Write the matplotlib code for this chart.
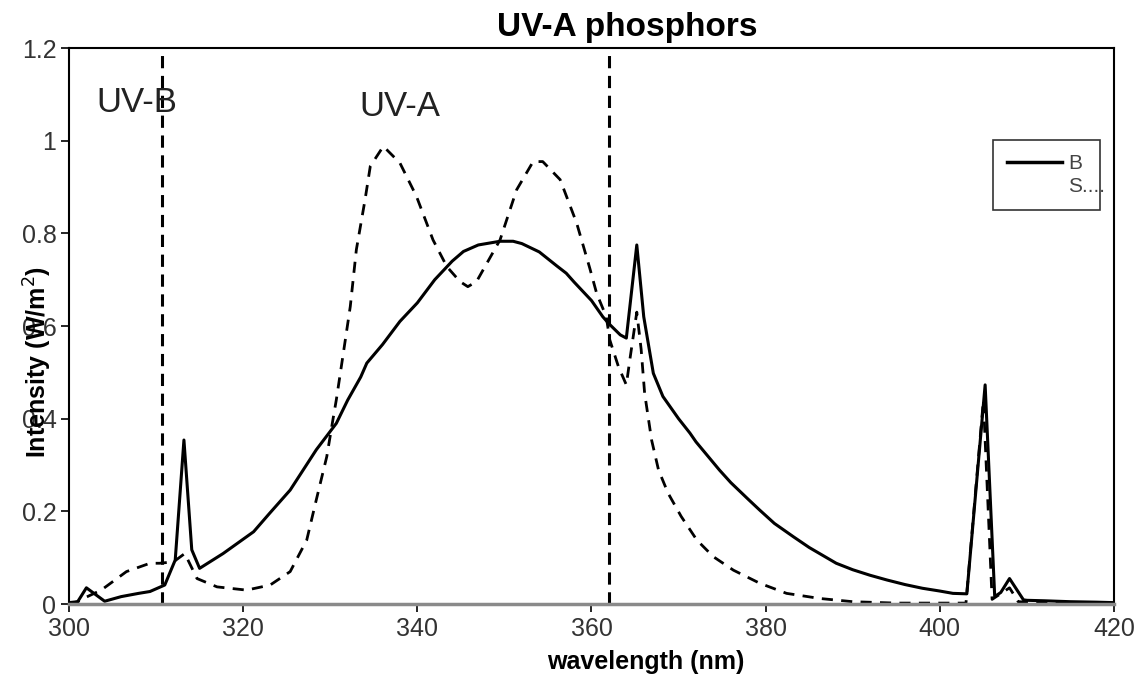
import matplotlib.pyplot as plt
from matplotlib.lines import Line2D

plt.rcParams['font.family'] = ['Liberation Sans', 'DejaVu Sans']

# phosphor B (solid)
wl_b = [300, 301, 302, 304.1, 306, 308, 309.3, 311, 312.2, 313.2, 314.1, 315,
        317.7, 321.2, 323, 325.4, 328.4, 330.7, 332, 333.5, 334.2, 336, 338,
        340, 342, 344, 345.3, 347, 349.5, 351, 352, 354, 356, 357.1, 358,
        360, 361.3, 362, 363.3, 364, 365.2, 366, 367.1, 368.2, 370, 371.3,
        372, 374.7, 376, 378, 379.3, 381, 383.2, 385, 388.1, 390, 392,
        393.9, 396, 398, 400, 401.5, 403.1, 405.2, 406.3, 407, 408, 409.6,
        410, 412, 415, 418, 420]
int_b = [0.003, 0.005, 0.035, 0.006, 0.016, 0.023, 0.027, 0.041, 0.095, 0.354,
         0.117, 0.077, 0.109, 0.156, 0.195, 0.246, 0.333, 0.39, 0.44, 0.49,
         0.52, 0.56, 0.61, 0.65, 0.70, 0.74, 0.761, 0.775, 0.783, 0.783,
         0.778, 0.76, 0.73, 0.714, 0.695, 0.655, 0.62, 0.605, 0.581, 0.574,
         0.775, 0.62, 0.498, 0.448, 0.40, 0.369, 0.35, 0.289, 0.262, 0.226,
         0.203, 0.174, 0.145, 0.122, 0.088, 0.074, 0.062, 0.052, 0.042,
         0.034, 0.028, 0.023, 0.022, 0.473, 0.016, 0.025, 0.055, 0.009,
         0.008, 0.007, 0.005, 0.004, 0.003]

# phosphor S (dashed)
wl_s = [300, 301, 302, 303.7, 306.6, 309.3, 310.4, 312, 313.3, 314.7, 317,
        320.4, 323.1, 325.4, 327.3, 328.4, 329.6, 330.3, 330.7, 331.5,
        332.3, 333, 334, 334.6, 336.1, 338, 339.9, 341.8, 343.4, 344.9,
        345.8, 346.8, 349.5, 351.4, 353.3, 354.4, 356.4, 358.3, 359.8,
        360.6, 361.7, 362.1, 363.1, 364, 364.4, 365.2, 365.7, 366.1, 366.9,
        367.7, 368.8, 370.3, 372.1, 374, 376.3, 379.3, 382.4, 386.2, 390,
        395, 400, 403, 405, 406, 408, 409, 412, 420]
int_s = [0.0, 0.005, 0.015, 0.03, 0.07, 0.088, 0.088, 0.091, 0.109, 0.055,
         0.037, 0.03, 0.041, 0.07, 0.138, 0.225, 0.318, 0.397, 0.441, 0.541,
         0.642, 0.765, 0.873, 0.945, 0.988, 0.952, 0.88, 0.786, 0.728,
         0.696, 0.685, 0.696, 0.786, 0.894, 0.955, 0.955, 0.916, 0.822,
         0.725, 0.67, 0.62, 0.57, 0.512, 0.473, 0.527, 0.63, 0.55, 0.455,
         0.354, 0.289, 0.239, 0.189, 0.138, 0.102, 0.073, 0.045, 0.023,
         0.012, 0.005, 0.002, 0.002, 0.002, 0.44, 0.01, 0.035, 0.005, 0.003,
         0.002]

band_edges = [310.7, 362]
x_ticks = [300, 320, 340, 360, 380, 400, 420]
y_ticks = [0, 0.2, 0.4, 0.6, 0.8, 1, 1.2]
y_ticklabels = ['0', '0.2', '0.4', '0.6', '0.8', '1', '1.2']

fig = plt.figure(figsize=(11.42, 6.77), dpi=100)
ax = fig.add_axes([0.0604, 0.1078, 0.9151, 0.8212])

ax.plot(wl_b, int_b, color='black', lw=2.2, label='B')
ax.plot(wl_s, int_s, color='black', lw=2.0, linestyle=(0, (4, 3)))
for x in band_edges:
    ax.axvline(x, color='black', lw=2.2, linestyle=(0, (4, 2.5)))

ax.text(303.2, 1.082, 'UV-B', fontsize=25, color='#222222', va='center')
ax.text(333.4, 1.073, 'UV-A', fontsize=25, color='#222222', va='center')

ax.set_xlim(300, 420)
ax.set_ylim(0, 1.2)
ax.set_xticks(x_ticks)
ax.set_yticks(y_ticks)
ax.set_yticklabels(y_ticklabels)
ax.tick_params(axis='both', direction='out', length=6, width=1.2,
               labelsize=18, labelcolor='#333333', pad=3)

for side in ['left', 'top', 'right']:
    ax.spines[side].set_linewidth(1.5)
    ax.spines[side].set_color('black')
ax.spines['bottom'].set_linewidth(2.5)
ax.spines['bottom'].set_color('#8a8a8a')

ax.set_title('UV-A phosphors', fontsize=24, fontweight='bold', x=0.534, pad=9)
ax.set_xlabel('wavelength (nm)', fontsize=18, fontweight='bold')
ax.xaxis.set_label_coords(0.552, -0.083)
ax.set_ylabel('Intensity (W/m$^2$)', fontsize=18, fontweight='bold')
ax.yaxis.set_label_coords(-0.014, 0.435)

handles = [Line2D([], [], color='black', lw=2.5),
           Line2D([], [], color='none')]
leg = ax.legend(handles, ['B', 'S....'], loc='upper left',
                bbox_to_anchor=(0.884, 0.835, 0.103, 0.0), mode='expand',
                fontsize=15, frameon=True, fancybox=False, borderpad=0.7,
                labelspacing=0.15, handlelength=2.6, handletextpad=0.3,
                borderaxespad=0)
leg.get_frame().set_edgecolor('black')
leg.get_frame().set_linewidth(1.2)
for t in leg.get_texts():
    t.set_color('#444444')

fig.savefig('out.png', dpi=100)
